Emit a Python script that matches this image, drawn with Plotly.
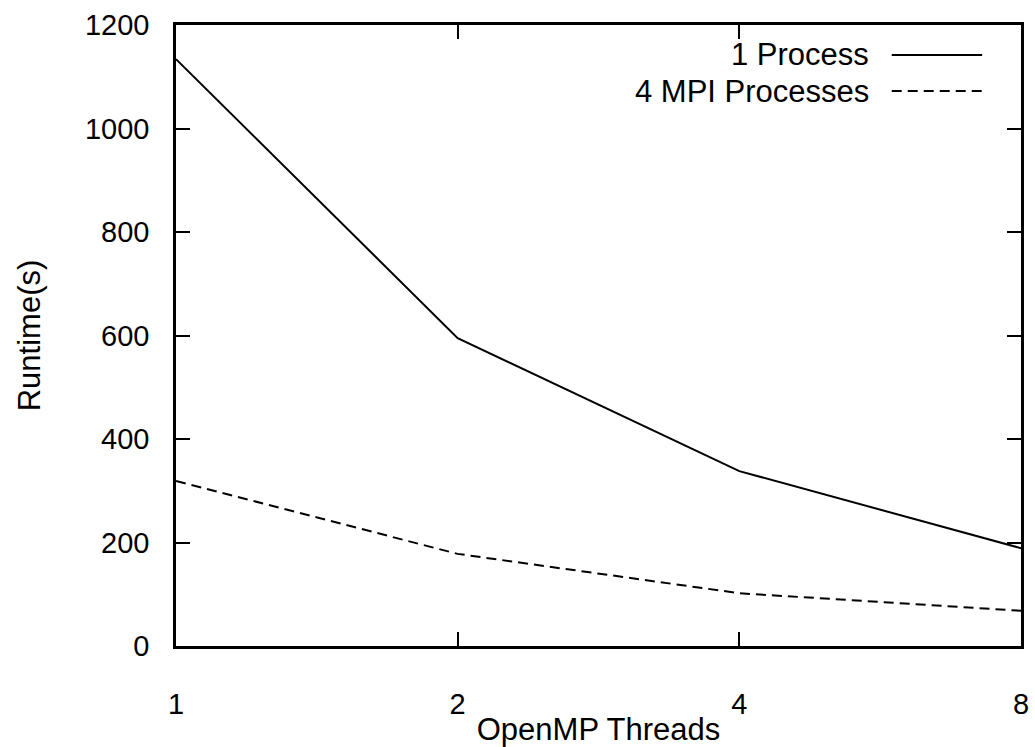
import plotly.graph_objects as go

threads = [1, 2, 4, 8]
one_process = [1134, 595, 338, 189]
four_mpi = [319, 178, 102, 68]
series_names = ["1 Process", "4 MPI Processes"]
y_ticks = [0, 200, 400, 600, 800, 1000, 1200]

FONT = "Liberation Sans, Arial, Helvetica, sans-serif"
FS_TICK = 29
FS_TITLE = 31
FS_KEY = 31

fig = go.Figure()
fig.add_trace(go.Scatter(x=threads, y=one_process, mode="lines", name=series_names[0],
                         line=dict(color="black", width=2), showlegend=False))
fig.add_trace(go.Scatter(x=threads, y=four_mpi, mode="lines", name=series_names[1],
                         line=dict(color="black", width=2, dash="10px,6px"), showlegend=False))

# custom gnuplot-style key (text right, sample line to its right)
key_rows = [(0.9517, "solid"), (0.8937, "10px,6px")]
for (yy, dash), name in zip(key_rows, series_names):
    fig.add_annotation(xref="paper", yref="paper", x=0.822, y=yy, text=name, showarrow=False,
                       xanchor="right", yanchor="middle", font=dict(family=FONT, size=FS_KEY, color="black"))
    fig.add_shape(type="line", xref="paper", yref="paper", x0=0.847, x1=0.954, y0=yy, y1=yy,
                  line=dict(color="black", width=2, dash=dash))

fig.update_layout(
    width=1035, height=747,
    margin=dict(l=176, r=14, t=25, b=101),
    paper_bgcolor="white", plot_bgcolor="white",
    font=dict(family=FONT, size=FS_TICK, color="black"),
    xaxis=dict(type="log", range=[0, 0.90309], tickvals=threads, ticktext=[str(t) for t in threads],
               ticks="inside", ticklen=14, tickwidth=1.5, tickcolor="black", ticklabelstandoff=30,
               showline=True, linecolor="black", linewidth=2.5, mirror="ticks",
               showgrid=False, zeroline=False, automargin=False,
               title=dict(text="OpenMP Threads", font=dict(size=FS_TITLE), standoff=0)),
    yaxis=dict(range=[0, 1200], tickvals=y_ticks,
               ticks="inside", ticklen=14, tickwidth=1.5, tickcolor="black", ticklabelstandoff=18,
               showline=True, linecolor="black", linewidth=2.5, mirror="ticks",
               showgrid=False, zeroline=False, automargin=False,
               title=dict(text="Runtime(s)", font=dict(size=FS_TITLE), standoff=36)),
)

fig.write_html("out.html", config={"displayModeBar": False},
               post_script="document.body.style.margin='0px';")
